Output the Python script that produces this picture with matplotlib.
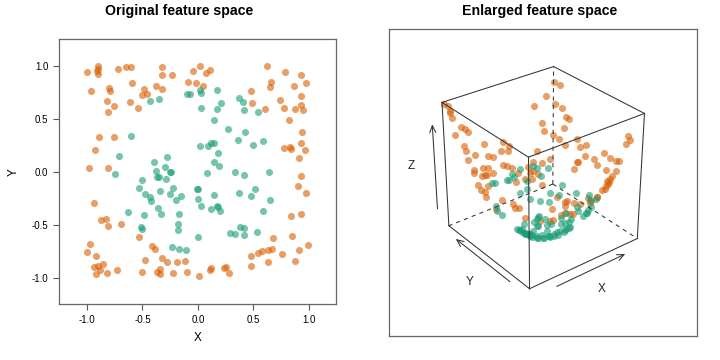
import numpy as np
import matplotlib
matplotlib.use('Agg')
import matplotlib.pyplot as plt
from mpl_toolkits.mplot3d import proj3d

plt.rcParams['font.family'] = ['Liberation Sans', 'DejaVu Sans']
plt.rcParams['axes.unicode_minus'] = False

# outer ring (class 1)
orange_x = [-1.00, -0.90, -0.90, -0.91, -0.90, -0.72, -0.65, -0.60, -0.32, -0.32,
            -0.23, -0.04, 0.02, -0.96, -0.80, -0.79, -0.59, -0.49, -0.50, -0.46,
            -0.38, -0.32, -0.82, -0.76, -0.81, -0.61, -0.54, -0.09, -0.02, -0.89,
            -0.76, -0.93, -0.98, -0.81, 0.07, 0.11, 0.05, 0.62, 0.79, 0.93,
            0.98, 0.66, 0.65, 0.87, 0.48, 0.49, 0.74, 0.93, 0.93, 0.78,
            0.88, 0.95, 0.61, 0.82, 0.94, 0.93, 0.97, 0.78, 0.83, 0.84,
            0.91, -0.94, -0.87, -0.83, -0.81, -0.69, -0.97, -1.00, -0.92, -0.94,
            -0.90, -0.86, -0.88, -0.92, -0.82, -0.73, -0.53, -0.41, -0.39, -0.48,
            -0.32, -0.28, -0.19, -0.12, -0.50, -0.37, -0.34, -0.34, -0.22, -0.10,
            0.01, 0.93, 0.90, 0.98, 0.84, 0.93, 0.68, 0.85, 0.99, 0.91,
            0.88, 0.76, 0.67, 0.63, 0.58, 0.54, 0.48, 0.63, 0.48, 0.12,
            0.11, 0.25, 0.24, 0.28]
orange_y = [0.94, 1.00, 0.97, 0.95, 0.92, 0.97, 0.99, 0.99, 0.99, 0.91,
            0.91, 0.95, 1.00, 0.76, 0.79, 0.76, 0.84, 0.78, 0.72, 0.73,
            0.81, 0.78, 0.67, 0.62, 0.56, 0.66, 0.60, 0.85, 0.84, 0.33,
            0.33, 0.20, 0.03, 0.03, 0.93, 0.96, 0.81, 1.00, 0.94, 0.91,
            0.84, 0.85, 0.80, 0.81, 0.76, 0.65, 0.68, 0.71, 0.63, 0.60,
            0.59, 0.58, 0.59, 0.49, 0.37, 0.27, 0.20, 0.22, 0.23, 0.21,
            0.13, -0.30, -0.46, -0.45, -0.51, -0.49, -0.68, -0.76, -0.80, -0.90,
            -0.89, -0.87, -0.93, -0.97, -0.96, -0.93, -0.62, -0.70, -0.73, -0.83,
            -0.82, -0.85, -0.85, -0.84, -0.95, -0.95, -0.92, -0.97, -0.96, -0.95,
            -0.99, -0.04, -0.14, -0.20, -0.42, -0.40, -0.63, -0.61, -0.69, -0.74,
            -0.84, -0.78, -0.73, -0.74, -0.75, -0.77, -0.80, -0.85, -0.89, -0.91,
            -0.93, -0.90, -0.91, -0.96]

# inner disc (class 2)
green_x = [-0.43, -0.35, -0.10, -0.07, 0.02, 0.03, -0.60, -0.71, -0.28, -0.40,
           -0.38, -0.30, -0.25, -0.24, -0.75, 0.03, 0.02, 0.17, 0.17, 0.21,
           0.37, 0.41, 0.42, 0.54, 0.15, 0.27, 0.43, 0.36, 0.59, 0.50,
           0.09, 0.12, 0.15, 0.18, 0.15, 0.19, 0.08, 0.34, 0.42, 0.64,
           -0.37, -0.35, -0.29, -0.50, -0.53, -0.48, -0.43, -0.42, -0.34, -0.25,
           -0.22, -0.15, -0.20, -0.01, 0.00, 0.00, -0.36, -0.33, -0.63, -0.49,
           -0.17, -0.18, -0.18, -0.51, -0.50, -0.23, -0.17, -0.11, 0.00, 0.03,
           0.15, 0.12, 0.17, 0.18, 0.20, 0.37, 0.48, 0.52, 0.65, 0.59,
           0.29, 0.34, 0.38, 0.42, 0.42, 0.53]
green_y = [0.67, 0.69, 0.73, 0.73, 0.77, 0.74, 0.34, 0.15, 0.14, 0.09,
           0.01, 0.04, 0.00, 0.00, -0.02, 0.60, 0.24, 0.77, 0.59, 0.65,
           0.70, 0.66, 0.58, 0.56, 0.49, 0.40, 0.37, 0.30, 0.29, 0.25,
           0.24, 0.27, 0.27, 0.18, 0.09, 0.05, -0.01, 0.00, -0.03, 0.00,
           -0.05, -0.05, -0.07, -0.08, -0.15, -0.21, -0.24, -0.28, -0.18, -0.21,
           -0.15, -0.23, -0.27, -0.16, -0.16, -0.26, -0.34, -0.40, -0.38, -0.41,
           -0.40, -0.49, -0.55, -0.52, -0.54, -0.71, -0.73, -0.74, -0.62, -0.32,
           -0.22, -0.35, -0.32, -0.33, -0.37, -0.20, -0.23, -0.16, -0.27, -0.37,
           -0.58, -0.59, -0.52, -0.53, -0.60, -0.57]

ticks = [-1.0, -0.5, 0.0, 0.5, 1.0]
tick_labels = ['-1.0', '-0.5', '0.0', '0.5', '1.0']

ORANGE = '#D95F02'
GREEN = '#1B9E77'
EDGE = '#333333'

fig = plt.figure(figsize=(7.2, 3.6), dpi=100)

# ---- left: original feature space
ax = fig.add_axes([0.0824, 0.1556, 0.3847, 0.7353])
ax.scatter(orange_x, orange_y, s=26, c=ORANGE, alpha=0.6, lw=0)
ax.scatter(green_x, green_y, s=26, c=GREEN, alpha=0.6, lw=0)
ax.set_xlim(-1.25, 1.25)
ax.set_ylim(-1.25, 1.25)
ax.set_xticks(ticks, tick_labels)
ax.set_yticks(ticks, tick_labels)
ax.tick_params(labelsize=7, length=4, width=0.8, color='#555555', pad=4)
for s in ax.spines.values():
    s.set_color('#666666')
    s.set_linewidth(0.9)
ax.set_xlabel('X', fontsize=8.5)
ax.set_ylabel('Y', fontsize=8.5)
ax.xaxis.set_label_coords(0.5, -0.127)
ax.xaxis.label.set_va('center')
ax.yaxis.set_label_coords(-0.166, 0.5)
ax.yaxis.label.set_va('center')
fig.text(179 / 720, 1 - 11.5 / 360, 'Original feature space', ha='center',
         va='center', fontsize=10.2, fontweight='bold')

# ---- right: enlarged feature space
rect = [388.7 / 720, (360 - 335.7) / 360, 308.6 / 720, 306.7 / 360]
frame = fig.add_axes(rect)
frame.set_xticks([])
frame.set_yticks([])
for s in frame.spines.values():
    s.set_color('#666666')
    s.set_linewidth(0.9)
fig.text(540 / 720, 1 - 11.5 / 360, 'Enlarged feature space', ha='center',
         va='center', fontsize=10.2, fontweight='bold')

ox, oy = np.array(orange_x), np.array(orange_y)
gx, gy = np.array(green_x), np.array(green_y)
oz = ox ** 2 + oy ** 2
gz = gx ** 2 + gy ** 2

rect3 = [rect[0] - 5 / 720, rect[1] + 6 / 360, rect[2], rect[3]]
ax3 = fig.add_axes(rect3, projection='3d')
ax3.set_facecolor('none')
ax3.set_axis_off()
ax3.computed_zorder = False
ax3.set_proj_type('persp', focal_length=0.6)
ax3.view_init(elev=30, azim=-128)
ax3.set_box_aspect((1, 1, 1.03), zoom=0.77)

allx = np.concatenate([ox, gx])
ally = np.concatenate([oy, gy])
allz = np.concatenate([oz, gz])
x0, x1 = allx.min(), allx.max()
y0, y1 = ally.min(), ally.max()
z0, z1 = allz.min(), allz.max()
ax3.set_xlim(x0, x1)
ax3.set_ylim(y0, y1)
ax3.set_zlim(z0, z1)
rx, ry, rz = x1 - x0, y1 - y0, z1 - z0

# hidden edges from the back-bottom corner
for a, b in [((x1, y1, z0), (x0, y1, z0)), ((x1, y1, z0), (x1, y0, z0)),
             ((x1, y1, z0), (x1, y1, z1))]:
    ax3.plot(*zip(a, b), color=EDGE, lw=0.75, ls=(0, (4, 4)))

ax3.scatter(ox, oy, oz, s=26, c=ORANGE, alpha=0.6, lw=0, depthshade=False)
ax3.scatter(gx, gy, gz, s=26, c=GREEN, alpha=0.6, lw=0, depthshade=False)

visible = [((x0, y0, z1), (x1, y0, z1)), ((x1, y0, z1), (x1, y1, z1)),
           ((x1, y1, z1), (x0, y1, z1)), ((x0, y1, z1), (x0, y0, z1)),
           ((x0, y0, z0), (x0, y0, z1)), ((x1, y0, z0), (x1, y0, z1)),
           ((x0, y1, z0), (x0, y1, z1)), ((x0, y0, z0), (x1, y0, z0)),
           ((x0, y0, z0), (x0, y1, z0))]
for a, b in visible:
    ax3.plot(*zip(a, b), color=EDGE, lw=0.75)

M = ax3.get_proj()


def flat(p):
    u, v, _ = proj3d.proj_transform(p[0], p[1], p[2], M)
    return u, v


za = z0 + 0.015 * rz
arrows = [((x0 + 0.15 * rx, y0 - 0.11 * ry, za), (x0 + 0.78 * rx, y0 - 0.11 * ry, za)),
          ((x0 - 0.07 * rx, y0 + 0.13 * ry, za), (x0 - 0.07 * rx, y0 + 0.80 * ry, za)),
          ((x0 - 0.09 * rx, y1, z0 + 0.18 * rz), (x0 - 0.09 * rx, y1, z0 + 0.86 * rz))]
for a, b in arrows:
    ax3.annotate('', xy=flat(b), xytext=flat(a),
                 arrowprops=dict(arrowstyle='->,head_length=0.5,head_width=0.22',
                                 color=EDGE, lw=0.75, shrinkA=0, shrinkB=0))

zl = z0 + 0.03 * rz
labels = [('X', (x0 + 0.36 * rx, y0 - 0.34 * ry, zl)),
          ('Y', (x0 - 0.30 * rx, y0 + 0.28 * ry, zl)),
          ('Z', (x0 - 0.28 * rx, y1, z0 + 0.6 * rz))]
for s, p in labels:
    ax3.annotate(s, xy=flat(p), ha='center', va='center', fontsize=8.5,
                 color='#222222')

fig.savefig('out.png', dpi=100)
